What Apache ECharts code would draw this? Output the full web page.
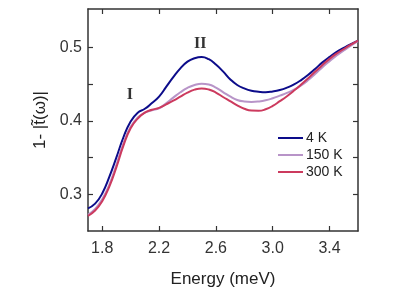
<!DOCTYPE html>
<html><head><meta charset="utf-8">
<script src="https://cdn.jsdelivr.net/npm/echarts@6/dist/echarts.min.js"></script>
<style>html,body{margin:0;padding:0;background:#fff}#c{width:415px;height:293px}</style>
</head><body><div id="c"></div>
<script>
const energy = [1.70,1.75,1.80,1.85,1.90,1.95,2.00,2.05,2.10,2.15,2.20,2.25,2.30,2.35,2.40,2.45,2.50,2.55,2.60,2.65,2.70,2.75,2.80,2.85,2.90,2.95,3.00,3.05,3.10,3.15,3.20,3.25,3.30,3.35,3.40,3.45,3.50,3.55,3.60];
const abs4K = [0.2813,0.2876,0.3015,0.3240,0.3504,0.3781,0.3993,0.4112,0.4165,0.4244,0.4330,0.4462,0.4594,0.4713,0.4805,0.4852,0.4868,0.4838,0.4766,0.4673,0.4567,0.4488,0.4442,0.4411,0.4396,0.4389,0.4400,0.4420,0.4452,0.4495,0.4555,0.4627,0.4710,0.4795,0.4870,0.4937,0.4992,0.5043,0.5089];
const abs150K = [0.2725,0.2804,0.2936,0.3134,0.3405,0.3702,0.3920,0.4046,0.4112,0.4145,0.4171,0.4240,0.4316,0.4389,0.4449,0.4488,0.4506,0.4495,0.4452,0.4392,0.4332,0.4285,0.4264,0.4258,0.4264,0.4280,0.4308,0.4343,0.4380,0.4425,0.4482,0.4555,0.4640,0.4730,0.4812,0.4890,0.4957,0.5023,0.5083];
const abs300K = [0.2711,0.2784,0.2910,0.3108,0.3372,0.3669,0.3900,0.4032,0.4112,0.4151,0.4178,0.4225,0.4275,0.4330,0.4385,0.4425,0.4442,0.4427,0.4385,0.4325,0.4268,0.4211,0.4165,0.4140,0.4138,0.4158,0.4204,0.4268,0.4336,0.4412,0.4495,0.4581,0.4670,0.4760,0.4843,0.4915,0.4977,0.5036,0.5089];
const xTicks = [1.8,2.2,2.6,3.0,3.4];
const yTicks = [0.30,0.35,0.40,0.45,0.50];
const yLabels = [0.3,0.4,0.5];
const seriesNames = ['4 K','150 K','300 K'];
const colors = ['#0c0c8a','#b894c8','#cc3a5e'];
const annotations = [{text:'I', x:1.995, y:0.436},{text:'II', x:2.49, y:0.505}];

const pair = arr => energy.map((e,i)=>[e,arr[i]]);
const axisCol = '#333';
const font = 'Liberation Sans, Arial, sans-serif';
const chart = echarts.init(document.getElementById('c'), null, {renderer:'canvas'});
const xBase = {type:'value',min:1.7,max:3.6,
  axisLine:{show:true,onZero:false,lineStyle:{color:axisCol,width:1.5}},
  axisTick:{show:true,inside:true,length:5,customValues:xTicks,lineStyle:{color:axisCol,width:1.2}},
  splitLine:{show:false}};
const yBase = {type:'value',min:0.2505,max:0.552,
  axisLine:{show:true,onZero:false,lineStyle:{color:axisCol,width:1.5}},
  axisTick:{show:true,inside:true,length:5,customValues:yTicks,lineStyle:{color:axisCol,width:1.2}},
  splitLine:{show:false}};
chart.setOption({
  animation:false,
  grid:{left:88,top:9,right:57,bottom:57,containLabel:false},
  legend:{orient:'vertical',left:278,top:129.5,padding:0,itemWidth:25,itemHeight:2,itemGap:0,icon:'rect',
    textStyle:{fontFamily:font,fontSize:14,lineHeight:17,color:'#222',padding:[0,0,0,-2]},data:seriesNames},
  xAxis:[
    Object.assign({},xBase,{position:'bottom',name:'Energy (meV)',nameLocation:'middle',nameGap:40,
      nameTextStyle:{fontFamily:font,fontSize:17,color:'#222'},
      axisLabel:{show:true,customValues:xTicks,margin:10,fontFamily:font,fontSize:16,color:'#333',
        formatter:v=>v.toFixed(1)}}),
    Object.assign({},xBase,{position:'top',axisLabel:{show:false}})
  ],
  yAxis:[
    Object.assign({},yBase,{position:'left',name:'1- |t\u0303(\u03c9)|',nameLocation:'middle',nameGap:38,nameRotate:90,
      nameTextStyle:{fontFamily:font,fontSize:17,color:'#222'},
      axisLabel:{show:true,customValues:yLabels,margin:6,fontFamily:font,fontSize:16,color:'#333',
        formatter:v=>v.toFixed(1)}}),
    Object.assign({},yBase,{position:'right',axisLabel:{show:false}})
  ],
  series:[abs4K,abs150K,abs300K].map((d,i)=>({
    name:seriesNames[i],type:'line',data:pair(d),smooth:0.5,symbol:'none',
    lineStyle:{color:colors[i],width:2},itemStyle:{color:colors[i]},z:2+i
  }))
});
const g = annotations.map(a=>{
  const p = chart.convertToPixel({xAxisIndex:0,yAxisIndex:0},[a.x,a.y]);
  return {type:'text',x:p[0],y:p[1],style:{text:a.text,fill:'#333',font:'bold 16px "Liberation Serif", serif',align:'center',verticalAlign:'middle'}};
});
chart.setOption({graphic:g});
</script></body></html>
